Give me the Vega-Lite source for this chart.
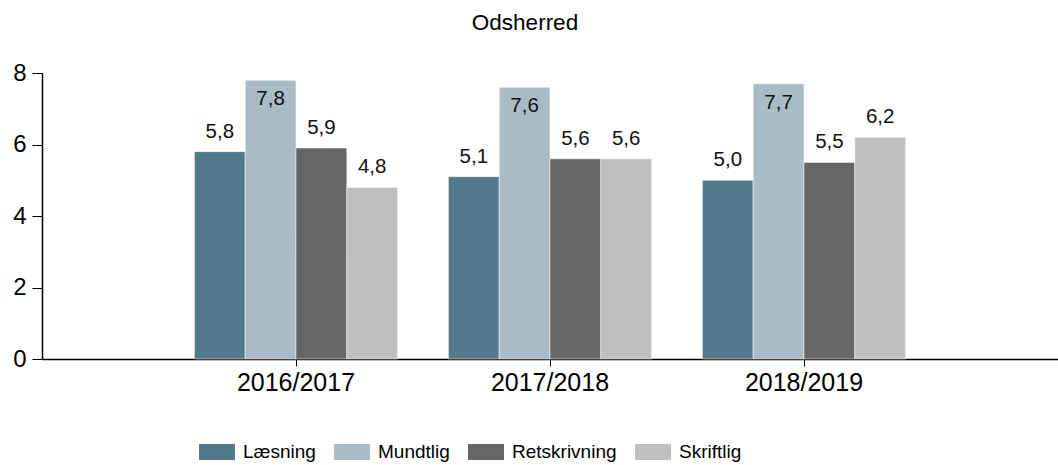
{
  "$schema": "https://vega.github.io/schema/vega-lite/v6.json",
  "width": 1016,
  "height": 286,
  "autosize": {"type": "none"},
  "padding": {"left": 42, "top": 73, "right": 0, "bottom": 106},
  "title": {"text": "Odsherred", "fontSize": 22.5, "fontWeight": "normal", "color": "#000000", "anchor": "middle", "frame": "group", "offset": 27, "dx": -25},
  "config": {
    "font": "Liberation Sans",
    "view": {"stroke": null},
    "locale": {"number": {"decimal": ",", "thousands": ".", "grouping": [3], "currency": ["", " kr."]}}
  },
  "data": {
    "values": [
      {"year": "2016/2017", "type": "Læsning", "value": 5.8},
      {"year": "2016/2017", "type": "Mundtlig", "value": 7.8},
      {"year": "2016/2017", "type": "Retskrivning", "value": 5.9},
      {"year": "2016/2017", "type": "Skriftlig", "value": 4.8},
      {"year": "2017/2018", "type": "Læsning", "value": 5.1},
      {"year": "2017/2018", "type": "Mundtlig", "value": 7.6},
      {"year": "2017/2018", "type": "Retskrivning", "value": 5.6},
      {"year": "2017/2018", "type": "Skriftlig", "value": 5.6},
      {"year": "2018/2019", "type": "Læsning", "value": 5.0},
      {"year": "2018/2019", "type": "Mundtlig", "value": 7.7},
      {"year": "2018/2019", "type": "Retskrivning", "value": 5.5},
      {"year": "2018/2019", "type": "Skriftlig", "value": 6.2}
    ]
  },
  "encoding": {
    "x": {
      "field": "year", "type": "nominal", "title": null,
      "scale": {"paddingInner": 0.2, "paddingOuter": 0.6},
      "axis": {"labelAngle": 0, "labelFontSize": 25, "labelColor": "#000000", "domainColor": "#000000", "domainWidth": 1.5, "tickColor": "#000000", "tickSize": 7, "labelPadding": 4}
    },
    "xOffset": {"field": "type", "type": "nominal", "scale": {"domain": ["Læsning", "Mundtlig", "Retskrivning", "Skriftlig"]}},
    "y": {
      "field": "value", "type": "quantitative", "title": null,
      "scale": {"domain": [0, 8], "nice": false},
      "axis": {"values": [0, 2, 4, 6, 8], "grid": false, "labelFontSize": 24, "labelColor": "#000000", "domainColor": "#000000", "domainWidth": 1.5, "tickColor": "#000000", "tickSize": 10, "labelPadding": 6}
    }
  },
  "layer": [
    {
      "mark": {"type": "bar", "stroke": "#ffffff", "strokeOpacity": 0.5, "strokeWidth": 1},
      "encoding": {
        "color": {
          "field": "type", "type": "nominal", "title": null,
          "scale": {"domain": ["Læsning", "Mundtlig", "Retskrivning", "Skriftlig"], "range": ["#54798b", "#a9bcc6", "#666666", "#bfbfbf"]},
          "legend": {
            "orient": "none", "direction": "horizontal", "legendX": 157, "legendY": 361,
            "symbolType": "M-1,-0.444H1V0.444H-1Z", "symbolSize": 1296, "symbolStrokeWidth": 0, "symbolOpacity": 1,
            "labelFontSize": 19, "labelColor": "#000000", "labelOffset": 8, "columnPadding": 18
          }
        }
      }
    },
    {
      "transform": [{"filter": "datum.type !== 'Mundtlig'"}],
      "mark": {"type": "text", "baseline": "alphabetic", "dy": -14, "fontSize": 20.5, "color": "#111111"},
      "encoding": {"text": {"field": "value", "type": "quantitative", "format": ".1f"}}
    },
    {
      "transform": [{"filter": "datum.type === 'Mundtlig'"}],
      "mark": {"type": "text", "baseline": "alphabetic", "dy": 25, "fontSize": 20.5, "color": "#111111"},
      "encoding": {"text": {"field": "value", "type": "quantitative", "format": ".1f"}}
    }
  ]
}
